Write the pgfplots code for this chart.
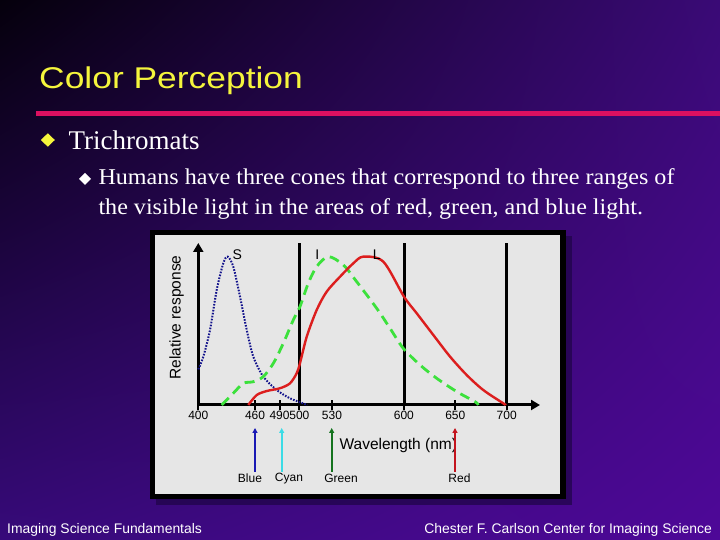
\documentclass[border=0pt]{standalone}
\usepackage{fontspec}
\setmainfont{Liberation Sans}
\newfontfamily\timesf{Liberation Serif}
\usepackage{pgfplots}
\pgfplotsset{compat=1.18}
\usetikzlibrary{arrows.meta,shadings}
\definecolor{bgUL}{RGB}{5,0,12}
\definecolor{bgUR}{RGB}{58,10,118}
\definecolor{bgLL}{RGB}{55,10,122}
\definecolor{bgLR}{RGB}{78,8,152}
\definecolor{titleY}{RGB}{245,245,60}
\definecolor{ruleM}{RGB}{220,16,96}
\definecolor{panel}{RGB}{230,230,230}
\definecolor{shadowC}{RGB}{30,4,70}
\definecolor{sBlue}{RGB}{20,20,140}
\definecolor{iGreen}{RGB}{60,225,60}
\definecolor{lRed}{RGB}{220,30,30}
\definecolor{aBlue}{RGB}{25,25,180}
\definecolor{aCyan}{RGB}{60,220,230}
\definecolor{aGreen}{RGB}{20,115,30}
\definecolor{aRed}{RGB}{195,20,30}

\pgfplotstableread{
u y
400 0.24
404.9 0.326
411.4 0.506
417.9 0.775
424.3 0.955
428.6 1.0
434.0 0.933
440.6 0.730
447.1 0.506
453.5 0.326
463.2 0.191
476.3 0.101
489.2 0.045
502.1 0.011
506 0.0
}\Scone

\pgfplotstableread{
u y
422.8 0
434.0 0.079
443.8 0.146
453.5 0.157
463.2 0.191
473.0 0.281
482.7 0.416
492.4 0.573
498.9 0.663
507.0 0.821
515.2 0.933
526.5 1.0
541.1 0.944
554.1 0.831
573.5 0.652
586.5 0.517
599.4 0.382
615.7 0.270
631.9 0.180
651.4 0.090
669.2 0.022
672.4 0
}\Icone

\pgfplotstableread{
u y
448.6 0
456.8 0.067
466.5 0.094
479.5 0.113
489.2 0.146
495.7 0.214
498.9 0.281
505.5 0.461
515.2 0.641
524.9 0.764
537.9 0.865
550.8 0.955
560.5 1.0
580.0 0.966
600.1 0.730
612.5 0.618
628.6 0.472
644.9 0.326
661.1 0.202
677.2 0.101
696.7 0.011
699 0
}\Lcone

\begin{document}
\begin{tikzpicture}[x=1pt,y=1pt]
\shade[upper left=bgUL, upper right=bgUR, lower left=bgLL, lower right=bgLR] (0,0) rectangle (720,540);

% title and rule
\node[anchor=base west, inner sep=0, xscale=1.18, text=titleY, font=\fontsize{30}{30}\selectfont] at (39,451) {Color Perception};
\fill[ruleM] (36,424.2) rectangle (720,429.2);

% bullets
\fill[titleY] (40.8,400) -- (47.8,406.7) -- (54.8,400) -- (47.8,393.3) -- cycle;
\node[anchor=base west, inner sep=0, text=white, font=\timesf\fontsize{27}{27}\selectfont] at (68.3,390.7) {Trichromats};
\fill[white] (79,361) -- (85,367) -- (91,361) -- (85,355) -- cycle;
\node[anchor=base west, inner sep=0, xscale=1.066, text=white, font=\timesf\fontsize{22.6}{22.6}\selectfont] at (98.3,355) {Humans have three cones that correspond to three ranges of};
\node[anchor=base west, inner sep=0, xscale=1.066, text=white, font=\timesf\fontsize{22.6}{22.6}\selectfont] at (98.3,325.5) {the visible light in the areas of red, green, and blue light.};

% chart panel
\fill[shadowC, opacity=0.7] (156,35) rectangle (572,304);
\fill[black] (150,41) rectangle (566,310);
\fill[panel] (155,46) rectangle (560,305);

\begin{axis}[
  at={(198.3pt,135pt)}, anchor=origin,
  x coord trafo/.code={\pgfmathparse{#1-400}},
  x coord inv trafo/.code={\pgfmathparse{#1+400}},
  scale only axis, width=341.7pt, height=162pt,
  xmin=400, xmax=732.4, ymin=0, ymax=1.092,
  axis lines=left,
  x axis line style={line width=3pt, -{Triangle[length=9pt,width=10pt]}},
  y axis line style={line width=3pt, -{Triangle[length=9pt,width=10pt]}},
  xtick={400,455.2,479,498.3,530,600,650,700},
  xticklabels={400,460,490,500,530,600,650,700},
  ytick=\empty,
  major tick length=10pt, tick align=center,
  xtick style={line width=2pt, black},
  xticklabel style={font=\fontsize{12}{12}\selectfont, text=black, inner sep=1pt},
  clip=false,
]
\addplot[black, line width=3pt] coordinates {(498.3,0) (498.3,1.092)};
\addplot[black, line width=3pt] coordinates {(600.1,0) (600.1,1.092)};
\addplot[black, line width=3pt] coordinates {(700,0) (700,1.092)};

\addplot[sBlue, line width=2pt, smooth, dash pattern=on 1.6pt off 1.4pt] table[x=u,y=y] {\Scone};
\addplot[iGreen, line width=2.8pt, smooth, dash pattern=on 10pt off 6pt] table[x=u,y=y] {\Icone};
\addplot[lRed, line width=2.4pt, smooth] table[x=u,y=y] {\Lcone};
\end{axis}

% curve labels
\node[font=\fontsize{14}{14}\selectfont] at (237.3,285) {S};
\node[font=\fontsize{14}{14}\selectfont] at (317.3,285) {I};
\node[font=\fontsize{14}{14}\selectfont] at (376.7,285) {L};

% axis titles
\node[font=\fontsize{15.5}{15.5}\selectfont] at (398.3,95) {Wavelength (nm)};
\node[rotate=90, font=\fontsize{15.5}{15.5}\selectfont] at (176.7,222.5) {Relative response};

% colour arrows
\draw[aBlue, line width=2pt, -{Triangle[length=5pt,width=5pt]}] (255,68.3) -- (255,112);
\draw[aCyan, line width=2pt, -{Triangle[length=5pt,width=5pt]}] (281.7,68.3) -- (281.7,112);
\draw[aGreen, line width=2pt, -{Triangle[length=5pt,width=5pt]}] (331.7,68.3) -- (331.7,112);
\draw[aRed, line width=2pt, -{Triangle[length=5pt,width=5pt]}] (455,68.3) -- (455,112);

\node[font=\fontsize{12}{12}\selectfont] at (250,61.7) {Blue};
\node[font=\fontsize{12}{12}\selectfont] at (289,61.7) {Cyan};
\node[font=\fontsize{12}{12}\selectfont] at (341,61.7) {Green};
\node[font=\fontsize{12}{12}\selectfont] at (459.5,61.7) {Red};

% footer
\node[anchor=base west, inner sep=0, text=white, font=\fontsize{13.9}{13.9}\selectfont] at (7,6.7) {Imaging Science Fundamentals};
\node[anchor=base east, inner sep=0, text=white, font=\fontsize{13.9}{13.9}\selectfont] at (712,6.7) {Chester F. Carlson Center for Imaging Science};

\pgfresetboundingbox
\path[use as bounding box] (0,0) rectangle (720,540);
\end{tikzpicture}
\end{document}
